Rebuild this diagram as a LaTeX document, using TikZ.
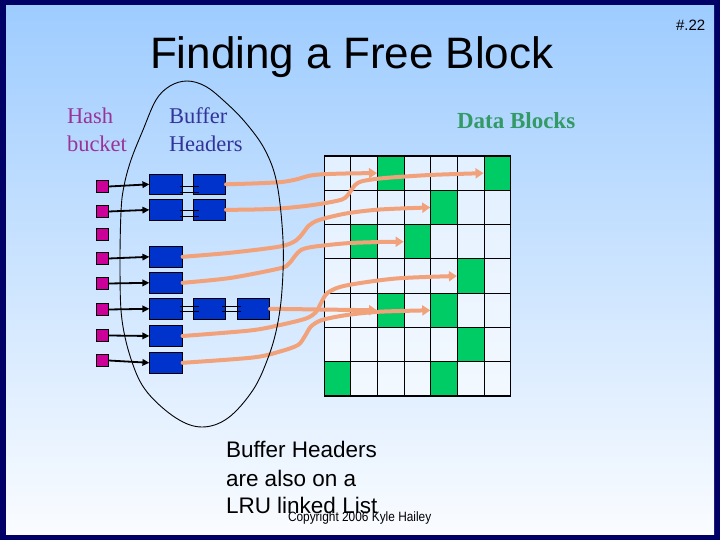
\documentclass[tikz,border=0pt]{standalone}
\usepackage{fontspec}
\setmainfont{Liberation Sans}
\newfontfamily\tnr{Liberation Serif}
\usetikzlibrary{arrows.meta}
\definecolor{navy}{RGB}{0,0,102}
\definecolor{bgtop}{RGB}{158,204,255}
\definecolor{bgmid}{RGB}{190,221,252}
\definecolor{bgbot}{RGB}{250,252,255}
\definecolor{hashc}{RGB}{153,51,153}
\definecolor{bufc}{RGB}{51,51,153}
\definecolor{datac}{RGB}{51,153,102}
\definecolor{bucketfill}{RGB}{204,0,153}
\definecolor{hdrfill}{RGB}{0,51,204}
\definecolor{blkgreen}{RGB}{0,204,102}
\definecolor{arroworange}{RGB}{242,162,122}
\begin{document}
\begin{tikzpicture}[x=1pt,y=-1pt,
  bucket/.style={rectangle, draw=black, line width=0.6pt, fill=bucketfill, minimum width=12pt, minimum height=12pt, inner sep=0pt},
  hdr/.style={rectangle, draw=black, line width=0.7pt, fill=hdrfill, minimum width=32.5pt, minimum height=20.5pt, inner sep=0pt},
  cellbox/.style={rectangle, draw=black, line width=1.1pt, fill=white, fill opacity=0.6, draw opacity=1, minimum width=26.63pt, minimum height=34.29pt, inner sep=0pt},
  greenbox/.style={cellbox, fill=blkgreen, fill opacity=1},
  barrow/.style={draw=black, line width=1.8pt, -{Triangle[length=7pt,width=6.5pt]}},
  oarrow/.style={draw=arroworange, line width=4pt, line cap=round, line join=round, -{Triangle[length=8pt,width=10pt]}},
  linkline/.style={draw=black, line width=0.7pt},
  txt/.style={anchor=base west, inner sep=0pt, outer sep=0pt}
]
% background and frame
\fill[navy] (0,0) rectangle (720,540);
\shade[top color=bgtop, middle color=bgmid, bottom color=bgbot] (6,6) rectangle (714,534);

% data block grid
\foreach \r in {0,...,6} {
  \foreach \c in {0,...,6} {
    \node[cellbox] (g\r\c) at ({324.3+26.63*(\c+0.5)},{156+34.29*(\r+0.5)}) {};
  }
}
\foreach \r/\c in {0/2,0/6,1/4,2/1,2/3,3/5,4/2,4/4,5/5,6/0,6/4} {
  \node[greenbox] at (g\r\c) {};
}

% hash buckets
\node[bucket] (b1) at (102.5,186.5) {};
\node[bucket] (b2) at (102.5,211.5) {};
\node[bucket] (b3) at (102.5,234.5) {};
\node[bucket] (b4) at (102.5,258.5) {};
\node[bucket] (b5) at (102.5,283.5) {};
\node[bucket] (b6) at (102.5,309.5) {};
\node[bucket] (b7) at (102.5,335.5) {};
\node[bucket] (b8) at (102.5,360.5) {};

% buffer headers
\node[hdr] (h1a) at (166,184.3) {};
\node[hdr] (h1b) at (209.5,184.3) {};
\node[hdr] (h2a) at (166,209.8) {};
\node[hdr] (h2b) at (209.5,209.8) {};
\node[hdr] (h4) at (166,256.8) {};
\node[hdr] (h5) at (166,282.8) {};
\node[hdr] (h6a) at (166,308.8) {};
\node[hdr] (h6b) at (209.5,308.8) {};
\node[hdr] (h6c) at (253.5,308.8) {};
\node[hdr] (h7) at (166,336) {};
\node[hdr] (h8) at (166,362.8) {};

% links between headers (double lines)
\draw[linkline] ([xshift=-3pt,yshift=-2.4pt]h1a.east) -- ([xshift=6pt,yshift=-2.4pt]h1b.west);
\draw[linkline] ([xshift=-3pt,yshift=-8pt]h1a.east) -- ([xshift=6pt,yshift=-8pt]h1b.west);
\draw[linkline] ([xshift=-3pt,yshift=-0.9pt]h2a.east) -- ([xshift=6pt,yshift=-0.9pt]h2b.west);
\draw[linkline] ([xshift=-3pt,yshift=-6.2pt]h2a.east) -- ([xshift=6pt,yshift=-6.2pt]h2b.west);
\draw[linkline] ([xshift=-3pt,yshift=2.8pt]h6a.east) -- ([xshift=6pt,yshift=2.8pt]h6b.west);
\draw[linkline] ([xshift=-3pt,yshift=-2.9pt]h6a.east) -- ([xshift=6pt,yshift=-2.9pt]h6b.west);
\draw[linkline] ([xshift=-4pt,yshift=2.8pt]h6b.east) -- ([xshift=4pt,yshift=2.8pt]h6c.west);
\draw[linkline] ([xshift=-4pt,yshift=-2.9pt]h6b.east) -- ([xshift=4pt,yshift=-2.9pt]h6c.west);

% bucket -> header arrows
\draw[barrow] (b1.east) -- (h1a.west);
\draw[barrow] (b2.east) -- (h2a.west);
\draw[barrow] (b4.east) -- (h4.west);
\draw[barrow] (b5.east) -- (h5.west);
\draw[barrow] (b6.east) -- (h6a.west);
\draw[barrow] (b7.east) -- (h7.west);
\draw[barrow] (b8.east) -- (h8.west);

% header -> data block arrows
\draw[oarrow] plot[smooth, tension=0.5] coordinates {(h1b.east) (255,183.4) (282,182) (298,179) (308,176) (322,174.3) (350,173.4) (g02.west)};
\draw[oarrow] plot[smooth, tension=0.5] coordinates {(h2b.east) (250,209.6) (280,208.5) (313,205) (342,199.5) (350,192) (355,185) (363,181) (385,178) (430,175) (g06.west)};
\draw[oarrow] plot[smooth, tension=0.5] coordinates {(h4.east) (230,252.8) (280,246.5) (296,240.5) (303,233) (309,225.5) (319,220) (346,213.5) (380,209.5) (g14.west)};
\draw[oarrow] plot[smooth, tension=0.5] coordinates {(h5.east) (230,278) (280,268.3) (289,263.5) (295,256) (301,250) (313,246.8) (346,243.3) (380,242) (g23.west)};
\draw[oarrow] (h6c.east) -- (g42.west);
\draw[oarrow] plot[smooth, tension=0.5] coordinates {(h7.east) (250,330.5) (280,325) (306,318.5) (316,312) (321,303) (328,292.5) (346,285.5) (396,278.5) (g35.west)};
\draw[oarrow] plot[smooth, tension=0.5] coordinates {(h8.east) (253,357.5) (280,351.5) (298,345) (305,336) (311,326.5) (322,320) (347,315) (380,311.7) (g44.west)};

% ellipse grouping the buffer headers
\draw[black, line width=0.9pt] plot[smooth cycle, tension=0.6] coordinates {(187,81) (205,86) (223,100) (245,122) (265,150) (277,184) (283,240) (282,290) (277,327) (268,358) (253,390) (228,418) (202,427) (176,418) (147,392) (132,362) (122,320) (120,270) (121,212) (124,186) (131,160) (143,130) (156,100) (170,86)};

% texts
\node[txt, font=\fontsize{44}{50}\selectfont] (title) at (150,69) {Finding a Free Block};
\node[txt, font=\fontsize{15}{18}\selectfont] (slideno) at (676,30.7) {\#.22};
\node[txt, text=hashc, font=\tnr\fontsize{22.5}{27}\selectfont] (hash1) at (67,123.3) {Hash};
\node[txt, text=hashc, font=\tnr\fontsize{22.5}{27}\selectfont] (hash2) at (67,151.7) {bucket};
\node[txt, text=bufc, font=\tnr\fontsize{22.5}{27}\selectfont] (buf1) at (169,123.3) {Buffer};
\node[txt, text=bufc, font=\tnr\fontsize{22.5}{27}\selectfont] (buf2) at (169,151.7) {Headers};
\node[txt, text=datac, font=\tnr\bfseries\fontsize{23}{27}\selectfont] (data) at (457,128.3) {Data Blocks};
\node[txt, font=\fontsize{22.5}{27}\selectfont] (lru1) at (226,457.7) {Buffer Headers};
\node[txt, font=\fontsize{22.5}{27}\selectfont] (lru2) at (226,486) {are also on a};
\node[txt, font=\fontsize{22.5}{27}\selectfont] (lru3) at (226,513.5) {LRU linked List};
\node[txt, xscale=0.88, font=\fontsize{13.5}{16}\selectfont] (copy) at (288,521.7) {Copyright 2006 Kyle Hailey};
\end{tikzpicture}
\end{document}
